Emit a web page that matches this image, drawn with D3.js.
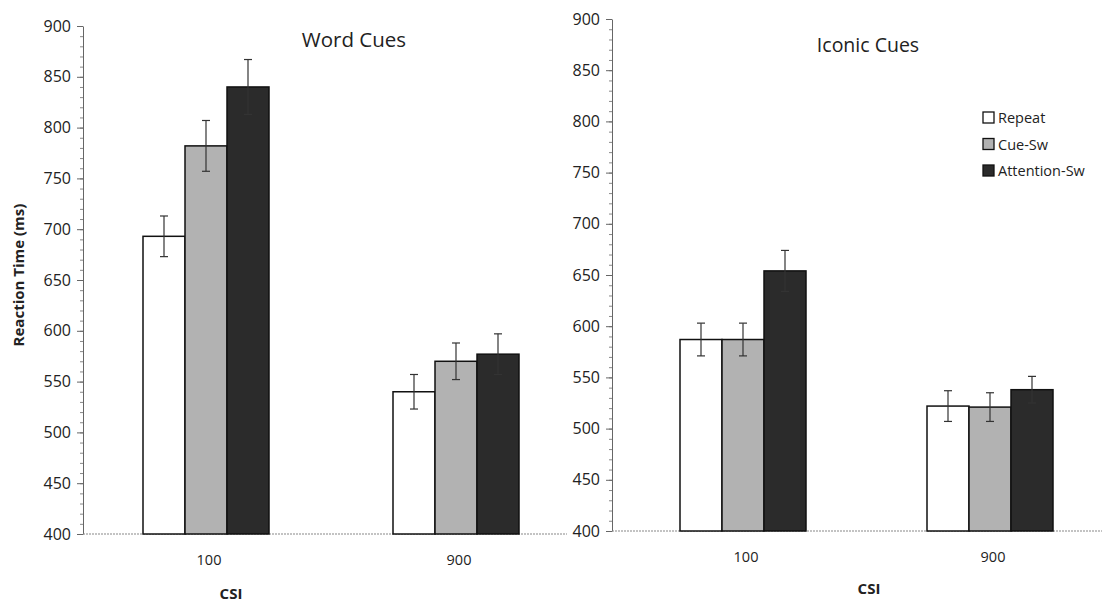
<!DOCTYPE html>
<html>
<head>
<meta charset="utf-8">
<script src="https://cdn.jsdelivr.net/npm/d3@7"></script>
<style>
  body { margin: 0; background: #fff; }
  text { font-family: "Open Sans", Lato, sans-serif; fill: #222; }
</style>
</head>
<body>
<div id="chart"></div>
<script>
// data
const csiLevels = ["100", "900"];
const conditions = ["Repeat", "Cue-Sw", "Attention-Sw"];
const conditionColors = ["#ffffff", "#b2b2b2", "#2b2b2b"];
const yTicks = [400, 450, 500, 550, 600, 650, 700, 750, 800, 850, 900];

// rows = CSI level, cols = condition
const wordMeans = [[693, 782, 840], [540, 570, 577]];
const wordErrors = [[20, 25, 27], [17, 18, 20]];
const iconicMeans = [[587, 587, 654], [522, 521, 538]];
const iconicErrors = [[16, 16, 20], [15, 14, 13]];

const svg = d3.select("#chart")
  .append("svg")
    .attr("width", 1102)
    .attr("height", 605);

// y axis title (shared, on the left)
svg.append("text")
  .attr("transform", "translate(24, 275) rotate(-90)")
  .attr("text-anchor", "middle")
  .attr("font-size", 15)
  .attr("font-weight", "bold")
  .text("Reaction Time (ms)");

function drawPanel(p) {
  const g = svg.append("g");

  const y = d3.scaleLinear()
    .domain([400, 900])
    .range([p.yBottom, p.yTop]);

  const x = d3.scalePoint()
    .domain(csiLevels)
    .range(p.centers);

  const xs = d3.scaleBand()
    .domain(conditions)
    .range([-63, 63])
    .padding(0);

  // minor ticks every 10 ms
  g.append("g")
    .attr("transform", `translate(${p.axisX}, 0)`)
    .call(d3.axisLeft(y).tickValues(d3.range(400, 901, 10)).tickSize(3).tickFormat(""))
    .call(a => a.select(".domain").remove())
    .selectAll("line").attr("stroke", "#888");

  // y axis with major ticks
  const ya = g.append("g")
    .attr("transform", `translate(${p.axisX}, 0)`)
    .call(d3.axisLeft(y).tickValues(yTicks).tickSize(6).tickPadding(6).tickSizeOuter(0))
    .attr("font-size", 16)
    .attr("font-family", "'Open Sans', Lato, sans-serif");
  ya.select(".domain").attr("stroke", "#666");
  ya.selectAll("line").attr("stroke", "#666");
  ya.selectAll("text").attr("fill", "#222");

  // x axis line (dotted grey)
  g.append("line")
    .attr("x1", p.axisX).attr("x2", p.xEnd)
    .attr("y1", y(400)).attr("y2", y(400))
    .attr("stroke", "#888")
    .attr("stroke-width", 1.2)
    .attr("stroke-dasharray", "2,1");

  // x category labels
  g.selectAll(".xlab")
    .data(csiLevels)
    .join("text")
      .attr("x", d => x(d) + 3)
      .attr("y", y(400) + 31)
      .attr("text-anchor", "middle")
      .attr("font-size", 14.5)
      .text(d => d);

  // CSI title
  g.append("text")
    .attr("x", p.csiX)
    .attr("y", p.csiY)
    .attr("text-anchor", "middle")
    .attr("font-size", 15)
    .attr("font-weight", "bold")
    .text("CSI");

  // panel title
  g.append("text")
    .attr("x", p.titleX)
    .attr("y", p.titleY)
    .attr("text-anchor", "middle")
    .attr("font-size", p.titleSize)
    .text(p.title);

  // bars
  const rows = [];
  csiLevels.forEach((c, i) => {
    conditions.forEach((k, j) => {
      rows.push({csi: c, cond: k, j: j, mean: p.means[i][j], err: p.errors[i][j]});
    });
  });

  g.append("g")
    .selectAll("rect")
    .data(rows)
    .join("rect")
      .attr("x", d => x(d.csi) + xs(d.cond))
      .attr("y", d => y(d.mean))
      .attr("width", xs.bandwidth())
      .attr("height", d => y(400) - y(d.mean))
      .attr("fill", d => conditionColors[d.j])
      .attr("stroke", "#111")
      .attr("stroke-width", 1.5);

  // error bars
  const eb = g.append("g")
    .selectAll("g")
    .data(rows)
    .join("g")
      .attr("transform", d => `translate(${x(d.csi) + xs(d.cond) + xs.bandwidth() / 2}, 0)`);
  eb.append("line")
    .attr("y1", d => y(d.mean + d.err))
    .attr("y2", d => y(d.mean - d.err))
    .attr("stroke", "#333").attr("stroke-width", 1.2);
  eb.append("line")
    .attr("x1", -4).attr("x2", 4)
    .attr("y1", d => y(d.mean + d.err))
    .attr("y2", d => y(d.mean + d.err))
    .attr("stroke", "#333").attr("stroke-width", 1.2);
  eb.append("line")
    .attr("x1", -4).attr("x2", 4)
    .attr("y1", d => y(d.mean - d.err))
    .attr("y2", d => y(d.mean - d.err))
    .attr("stroke", "#333").attr("stroke-width", 1.2);
}

drawPanel({
  title: "Word Cues", titleX: 354, titleY: 47, titleSize: 20.5,
  axisX: 83, xEnd: 567, yTop: 26, yBottom: 534,
  centers: [206, 456],
  csiX: 231, csiY: 599,
  means: wordMeans, errors: wordErrors
});

drawPanel({
  title: "Iconic Cues", titleX: 868, titleY: 52, titleSize: 19.5,
  axisX: 612, xEnd: 1102, yTop: 19, yBottom: 531,
  centers: [743, 990],
  csiX: 869, csiY: 594,
  means: iconicMeans, errors: iconicErrors
});

// legend
const legend = svg.append("g")
  .attr("transform", "translate(983, 112)");
const li = legend.selectAll("g")
  .data(conditions)
  .join("g")
    .attr("transform", (d, i) => `translate(0, ${i * 26.5})`);
li.append("rect")
  .attr("width", 11).attr("height", 11)
  .attr("fill", (d, i) => conditionColors[i])
  .attr("stroke", "#111")
  .attr("stroke-width", 1.3);
li.append("text")
  .attr("x", 15).attr("y", 11)
  .attr("font-size", 14.5)
  .text(d => d);
</script>
</body>
</html>
